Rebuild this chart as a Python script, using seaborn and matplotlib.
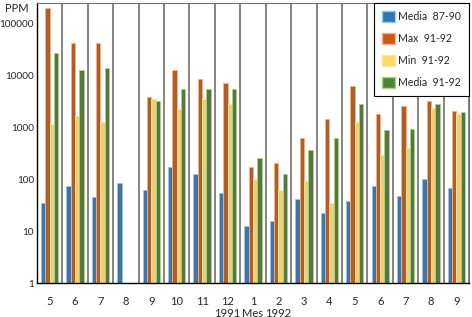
import numpy as np
import pandas as pd
import matplotlib
matplotlib.use("Agg")
import matplotlib.pyplot as plt
import matplotlib.patches as mpatches
import seaborn as sns

# Monthly values (PPM), May 1991 -> Sep 1992
months = ['5', '6', '7', '8', '9', '10', '11', '12', '1', '2', '3', '4', '5', '6', '7', '8', '9']
media_87_90 = [35, 73, 45, 87, 62, 172, 128, 54, 12.6, 16, 42, 22, 38, 76, 48, 103, 67]
max_91_92 = [205000, 42000, 43500, np.nan, 3950, 13100, 8500, 7200, 172, 205, 630, 1480, 6300, 1820, 2570, 3180, 2070]
min_91_92 = [1150, 1670, 1300, np.nan, 3470, 2250, 3470, 2900, 103, 62, 91, 35, 1290, 300, 410, 2360, 1820]
media_91_92 = [27000, 12600, 14000, np.nan, 3180, 5550, 5550, 5550, 264, 128, 372, 624, 2800, 880, 920, 2800, 1980]

series = ['Media  87-90', 'Max  91-92', 'Min  91-92', 'Media  91-92']
colors = ['#2E75B6', '#C55A11', '#FFD966', '#548235']
edges = ['#9DC3E6', '#F4B183', '#FFE699', '#A9D18E']

rows = []
for name, vals in zip(series, [media_87_90, max_91_92, min_91_92, media_91_92]):
    for i, v in enumerate(vals):
        rows.append({'pos': i, 'mes': months[i], 'serie': name, 'ppm': v})
df = pd.DataFrame(rows)

sns.set_style("white")
plt.rcParams['font.family'] = ['Lato', 'DejaVu Sans']

fig = plt.figure(figsize=(4.72, 3.17), dpi=100)
ax = fig.add_axes([0.078, 0.107, 0.916, 0.883])

sns.barplot(data=df, x='pos', y='ppm', hue='serie', hue_order=series,
            palette=colors, width=0.68, ax=ax, legend=False,
            linewidth=0.6)

# light rim on bars, like the original
for bars, ec in zip(ax.containers, edges):
    for b in bars:
        b.set_edgecolor(ec)

ax.set_yscale('log')
ax.set_ylim(1, 250000)
ax.set_xlim(-0.5, len(months) - 0.5)
ax.set_yticks([1, 10, 100, 1000, 10000, 100000])
ax.set_yticklabels(['1', '10', '100', '1000', '10000', '100000'], fontsize=7.2)
ax.yaxis.set_minor_locator(matplotlib.ticker.NullLocator())
ax.set_xticks(range(len(months)))
ax.set_xticklabels(months, fontsize=8)
ax.tick_params(axis='x', length=0, pad=9)
ax.tick_params(axis='y', length=0, pad=2)
ax.set_xlabel('')
ax.set_ylabel('')

for k in range(len(months)):
    ax.axvline(k + 0.5, color='#707070', lw=1.2, zorder=0.5)

for s in ['left', 'bottom']:
    ax.spines[s].set_color('black')
    ax.spines[s].set_linewidth(1)
ax.spines['top'].set_color('#707070')
ax.spines['right'].set_color('#707070')

fig.text(0.036, 0.972, 'PPM', fontsize=8, ha='center', va='center')
for pos, lab in [(7, '1991'), (8, 'Mes'), (9, '1992')]:
    ax.text(pos, -0.107, lab, transform=ax.get_xaxis_transform(),
            ha='center', va='center', fontsize=8)

handles = [mpatches.Patch(facecolor=c, edgecolor=e, label=n)
           for c, e, n in zip(colors, edges, series)]
leg = ax.legend(handles=handles, loc='upper right', bbox_to_anchor=(0.999, 1.0),
                fontsize=7.6, frameon=True, fancybox=False, framealpha=1,
                edgecolor='black', labelspacing=1.0, handlelength=1.3,
                handleheight=1.3, borderpad=0.7, handletextpad=0.3,
                borderaxespad=0)
leg.get_frame().set_linewidth(0.8)

fig.savefig('out.png', dpi=100)
